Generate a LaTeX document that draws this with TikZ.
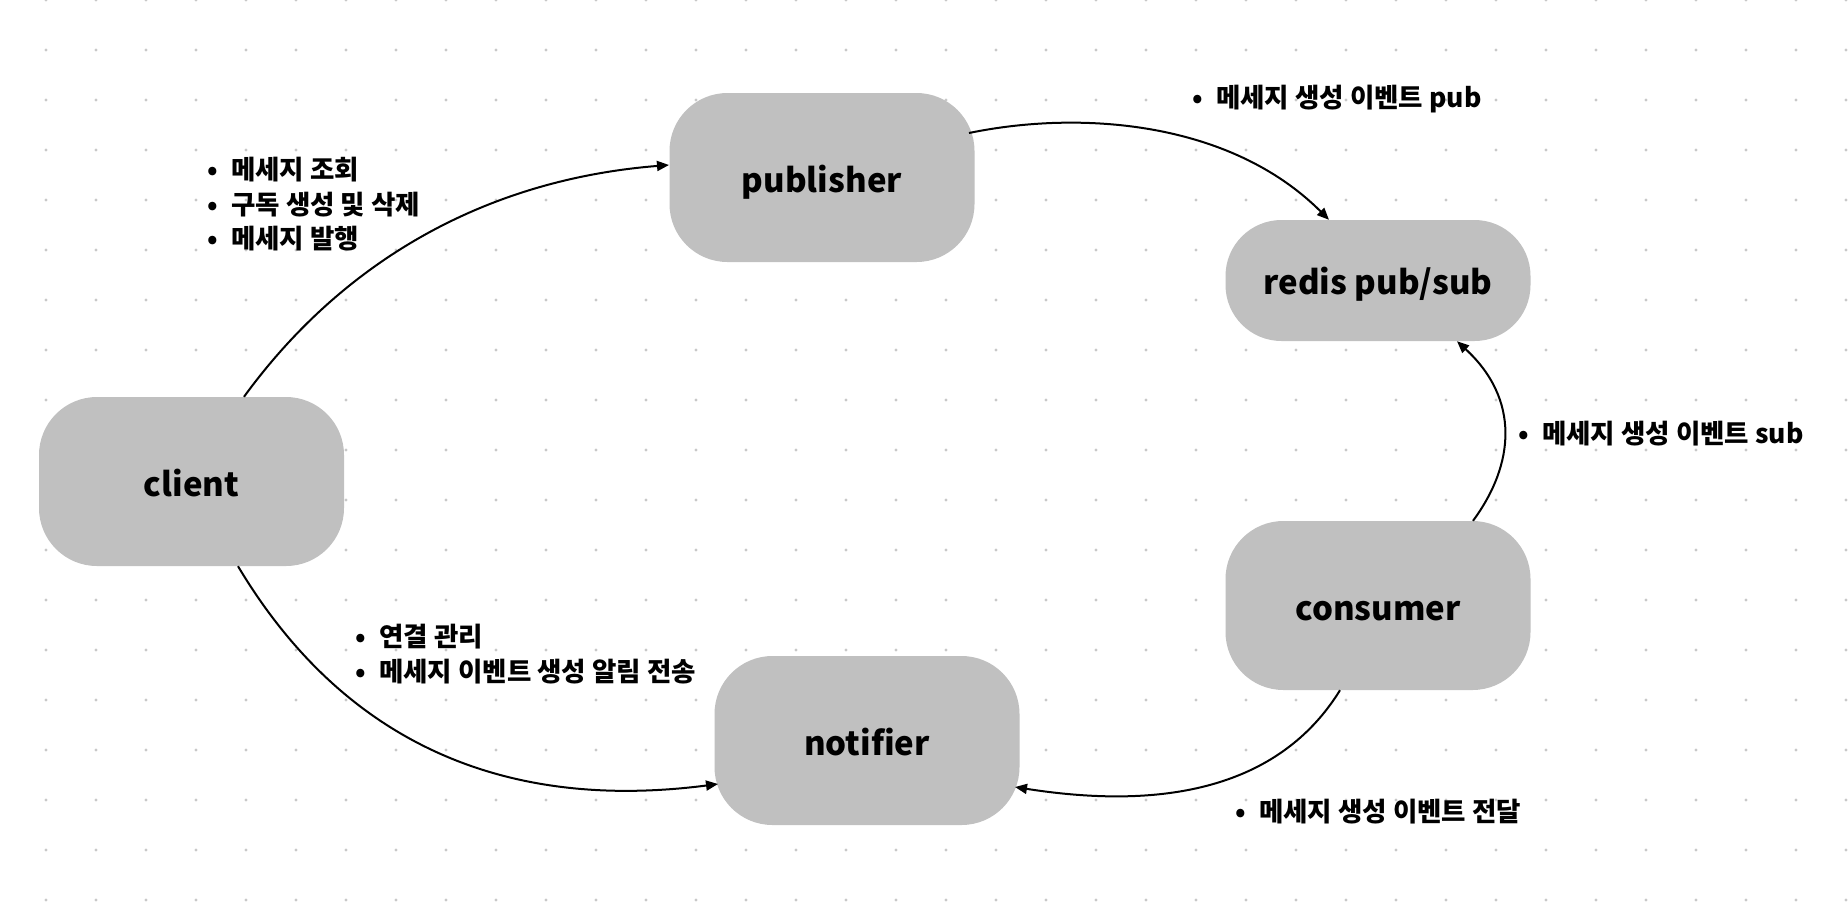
\documentclass[tikz,border=0pt]{standalone}
\usepackage{fontspec}
\setmainfont{Noto Sans CJK KR}
\usetikzlibrary{arrows.meta}
\definecolor{nodegray}{RGB}{192,192,192}
\definecolor{dotgray}{RGB}{200,200,200}
\tikzset{
  box/.style={fill=nodegray, draw=none, rounded corners=58pt, minimum width=305pt, minimum height=169pt, inner sep=0pt, text height=32pt, text depth=2pt, font=\fontsize{33}{36}\selectfont\bfseries},
  flow/.style={line width=2pt, -{Triangle[length=12pt,width=10pt]}},
  lbl/.style={anchor=base west, inner sep=0pt, font=\fontsize{26.5}{30}\selectfont\bfseries},
}
\newcommand{\bul}{\makebox[24pt][l]{•}}
\begin{document}
\begin{tikzpicture}[x=1pt,y=-1pt]
\useasboundingbox (0,0) rectangle (1848,906);
\fill[white] (0,0) rectangle (1848,906);
\foreach \i in {0,...,36}{
  \foreach \j in {0,...,18}{
    \fill[dotgray] (46+50*\i,50*\j) circle (1.6pt);
  }
}
\node[box] (publisher) at (822,177.5) {publisher};
\node[box, minimum height=121pt, rounded corners=56pt, text height=30pt] (redis) at (1378,280.5) {redis pub/sub};
\node[box] (client) at (191.5,481.5) {client};
\node[box] (consumer) at (1378,605.5) {consumer};
\node[box] (notifier) at (867,740.5) {notifier};

\draw[flow] ([xshift=52.5pt]client.north) .. controls +(96,-132) and +(-188,15) .. ([shift={(-153pt,12.5pt)}]publisher.center);
\draw[flow] ([shift={(147pt,44.5pt)}]publisher.center) .. controls +(111,-23) and +(-99,-99) .. ([xshift=-49pt]redis.north);
\draw[flow] ([xshift=95pt]consumer.north) .. controls +(42,-57) and +(63,58) .. ([xshift=79pt]redis.south);
\draw[flow] ([xshift=46.5pt]client.south) .. controls +(92,154) and +(-240,31) .. ([shift={(-149pt,-43.5pt)}]notifier.center);
\draw[flow] ([xshift=-38pt]consumer.south) .. controls +(-50,81) and +(178,28) .. ([shift={(148pt,-46.5pt)}]notifier.center);

\node[lbl] (l1) at (207,179) {\bul 메세지 조회};
\node[lbl] (l2) at (207,214) {\bul 구독 생성 및 삭제};
\node[lbl] (l3) at (207,248) {\bul 메세지 발행};
\node[lbl] (l4) at (1192,107) {\bul 메세지 생성 이벤트 pub};
\node[lbl] (l5) at (1518,443) {\bul 메세지 생성 이벤트 sub};
\node[lbl] (l6) at (355,646) {\bul 연결 관리};
\node[lbl] (l7) at (355,681) {\bul 메세지 이벤트 생성 알림 전송};
\node[lbl] (l8) at (1235,821) {\bul 메세지 생성 이벤트 전달};
\end{tikzpicture}
\end{document}
